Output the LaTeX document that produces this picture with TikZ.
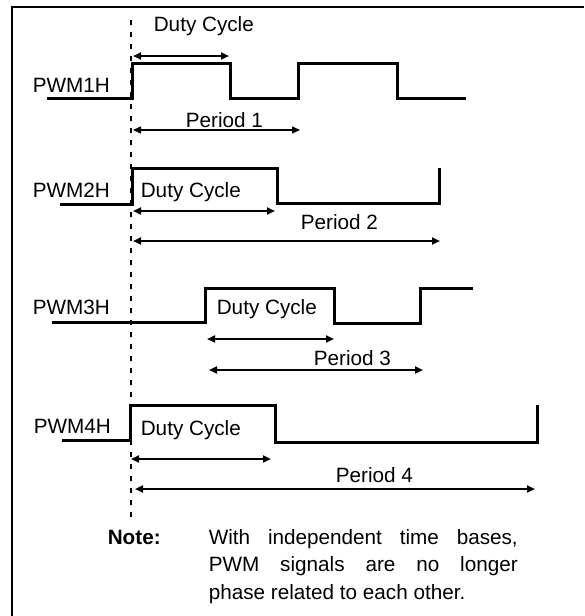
\documentclass[tikz,border=0pt]{standalone}
\usepackage{fontspec}
\setmainfont{Liberation Sans}
\usetikzlibrary{arrows.meta}

\begin{document}
\begin{tikzpicture}[x=0.5pt, y=-0.5pt, thick,
                    lbl/.style={inner sep=0pt, anchor=base west, font=\fontsize{10.35}{13.75}\selectfont},
                    wave/.style={line width=1.5pt, line join=miter},
                    span/.style={line width=1pt, {Triangle[length=4pt,width=3.5pt]}-{Triangle[length=4pt,width=3.5pt]}}]

	\useasboundingbox (0,0) rectangle (584,616);
	% frame
	\draw[line width=1.2pt] (12,616) -- (12,7) -- (584,7);
	% common start of the time bases
	\draw[line width=1pt, dash pattern=on 2.5pt off 3.5pt] (131,20) -- (131,519);

	% PWM1H
	\node[lbl] (top) at (153,31) {Duty Cycle};
	\node[lbl] (pwm1) at (32,92) {PWM1H};
	\draw[wave] (47,98) -- (132,98) -- (132,63) -- (230,63) -- (230,98)
		-- (298,98) -- (298,63) -- (397,63) -- (397,98) -- (466,98);
	\coordinate (d1a) at (133,56);
	\coordinate (d1b) at (229,56);
	\draw[span] (d1a) -- (d1b);
	\node[lbl] (per1) at (185,127) {Period 1};
	\coordinate (p1a) at (133,130);
	\coordinate (p1b) at (300,130);
	\draw[span, line width=0.7pt] (p1a) -- (p1b);

	% PWM2H
	\node[lbl] (pwm2) at (32,197) {PWM2H};
	\node[lbl] (duty2) at (140,197) {Duty Cycle};
	\draw[wave] (60,204) -- (132,204) -- (132,168) -- (277,168) -- (277,203)
		-- (439,203) -- (439,168);
	\coordinate (d2a) at (133,211);
	\coordinate (d2b) at (275,211);
	\draw[span] (d2a) -- (d2b);
	\node[lbl] (per2) at (300,229) {Period 2};
	\coordinate (p2a) at (133,241);
	\coordinate (p2b) at (440,241);
	\draw[span] (p2a) -- (p2b);

	% PWM3H
	\node[lbl] (pwm3) at (32,314) {PWM3H};
	\node[lbl] (duty3) at (216,314) {Duty Cycle};
	\draw[wave] (52,322) -- (205,322) -- (205,288) -- (334,288) -- (334,323)
		-- (420,323) -- (420,288) -- (473,288);
	\coordinate (d3a) at (207,339);
	\coordinate (d3b) at (334,339);
	\draw[span] (d3a) -- (d3b);
	\node[lbl] (per3) at (313,365) {Period 3};
	\coordinate (p3a) at (209,370);
	\coordinate (p3b) at (423,370);
	\draw[span] (p3a) -- (p3b);

	% PWM4H
	\node[lbl] (pwm4) at (33,433) {PWM4H};
	\node[lbl] (duty4) at (140,435) {Duty Cycle};
	\draw[wave] (62,440) -- (130,440) -- (130,405) -- (275,405) -- (275,442)
		-- (537,442) -- (537,405);
	\coordinate (d4a) at (131,459);
	\coordinate (d4b) at (271,459);
	\draw[span] (d4a) -- (d4b);
	\node[lbl] (per4) at (335,482) {Period 4};
	\coordinate (p4a) at (135,489);
	\coordinate (p4b) at (535,489);
	\draw[span] (p4a) -- (p4b);

	% note
	\node[lbl, font=\fontsize{10.35}{13.75}\selectfont\bfseries] (note) at (107,544) {Note:};
	\node[lbl, text width=154.5pt, align=justify] (notetext) at (208,544)
		{With independent time bases,\linebreak PWM signals are no longer\linebreak phase related to each other.};

\end{tikzpicture}
\end{document}
